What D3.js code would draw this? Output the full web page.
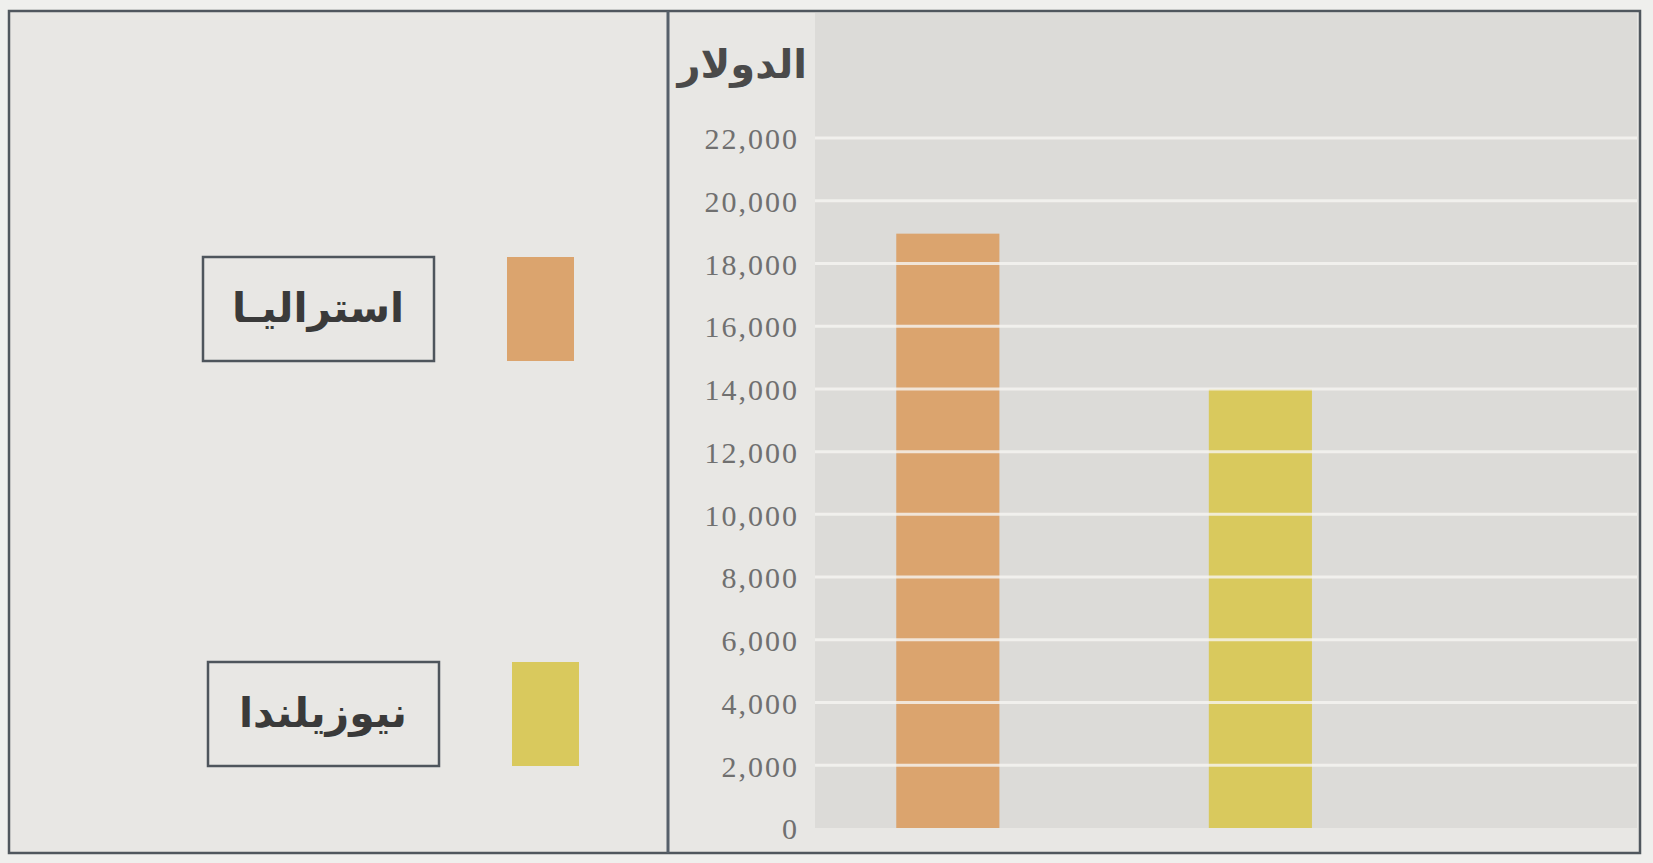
<!DOCTYPE html>
<html lang="ar">
<head>
  <meta charset="utf-8"/>
  <title>الدولار</title>
  <style>
    html, body { margin: 0; padding: 0; background: #efefed; }
    svg { display: block; }
    .tick-label { font-family: "Liberation Serif", "DejaVu Serif", serif; fill: #707070; }
    .ar { font-family: "DejaVu Sans", sans-serif; direction: rtl; }
  </style>
</head>
<body>
<svg id="chart" width="1653" height="863"></svg>

<script src="https://cdn.jsdelivr.net/npm/d3@7/dist/d3.min.js"></script>
<script>

  // data
  let countries = ['استراليـا', 'نيوزيلندا'];
  let incomes = [18950, 14000];
  let barColors = ['#dba46e', '#d9c95d'];
  let yTicks = [0, 2000, 4000, 6000, 8000, 10000, 12000, 14000, 16000, 18000, 20000, 22000];
  let yTitle = 'الدولار';

  let svg = d3.select('#chart');

  // frame
  let frame = {left: 9, top: 11, right: 1640, bottom: 853};
  let divider = 668;
  let plot = {left: 815, right: 1637, top: 13, bottom: 828};

  svg.append('rect')
    .attr('x', frame.left).attr('y', frame.top)
    .attr('width', frame.right - frame.left)
    .attr('height', frame.bottom - frame.top)
    .attr('fill', '#e8e7e4');

  // gray plot background
  svg.append('rect')
    .attr('x', plot.left).attr('y', plot.top)
    .attr('width', plot.right - plot.left)
    .attr('height', plot.bottom - plot.top)
    .attr('fill', '#dcdbd8');

  let y = d3.scaleLinear()
    .domain([0, 22000])
    .range([plot.bottom, 138]);

  let x = d3.scaleBand()
    .domain(countries)
    .range([plot.left, plot.right])
    .paddingInner(0.67)
    .paddingOuter(0.65)
    .align(0.2);

  // bars
  svg.append('g')
    .selectAll('rect')
    .data(countries)
    .join('rect')
    .attr('x', d => x(d))
    .attr('width', x.bandwidth())
    .attr('y', (d, i) => y(incomes[i]))
    .attr('height', (d, i) => y(0) - y(incomes[i]))
    .attr('fill', (d, i) => barColors[i]);

  // white grid lines run over the bars too
  svg.append('g')
    .selectAll('line')
    .data(yTicks.filter(t => t > 0))
    .join('line')
    .attr('x1', plot.left)
    .attr('x2', plot.right)
    .attr('y1', d => y(d))
    .attr('y2', d => y(d))
    .attr('stroke', '#f6f5f2')
    .attr('stroke-opacity', 0.8)
    .attr('stroke-width', 3);

  // y axis labels
  let axis = d3.axisLeft(y)
    .tickValues(yTicks)
    .tickFormat(d3.format(','))
    .tickSize(0)
    .tickPadding(0);

  let axisG = svg.append('g')
    .attr('transform', `translate(799,0)`)
    .call(axis);
  axisG.select('.domain').remove();
  axisG.selectAll('text')
    .attr('class', 'tick-label')
    .attr('font-size', 30)
    .attr('letter-spacing', 2)
    .attr('dy', '0.36em');

  svg.append('text')
    .attr('class', 'ar')
    .attr('x', 807)
    .attr('y', 78)
    .attr('text-anchor', 'start')
    .attr('font-size', 40)
    .attr('font-weight', 'bold')
    .attr('fill', '#4a4a4a')
    .text(yTitle);

  // legend
  let legendY = d3.scalePoint()
    .domain(countries)
    .range([309, 714]);

  let legend = svg.append('g')
    .selectAll('g')
    .data(countries)
    .join('g')
    .attr('transform', (d, i) => `translate(${i * 5},${legendY(d)})`);

  legend.append('rect')
    .attr('x', 203).attr('y', -52)
    .attr('width', 231).attr('height', 104)
    .attr('fill', 'none')
    .attr('stroke', '#4e555c')
    .attr('stroke-width', 2.5);

  legend.append('text')
    .attr('class', 'ar')
    .attr('x', 318)
    .attr('y', 0)
    .attr('dy', '0.32em')
    .attr('text-anchor', 'middle')
    .attr('font-size', 41)
    .attr('font-weight', 'bold')
    .attr('fill', '#3a3a3a')
    .text(d => d);

  legend.append('rect')
    .attr('x', 507).attr('y', -52)
    .attr('width', 67).attr('height', 104)
    .attr('fill', (d, i) => barColors[i]);

  // frame and divider on top
  svg.append('rect')
    .attr('x', frame.left).attr('y', frame.top)
    .attr('width', frame.right - frame.left)
    .attr('height', frame.bottom - frame.top)
    .attr('fill', 'none')
    .attr('stroke', '#50575e')
    .attr('stroke-width', 2.5);

  svg.append('line')
    .attr('x1', divider).attr('x2', divider)
    .attr('y1', frame.top).attr('y2', frame.bottom)
    .attr('stroke', '#56606a')
    .attr('stroke-width', 3);

</script>
</body>
</html>
